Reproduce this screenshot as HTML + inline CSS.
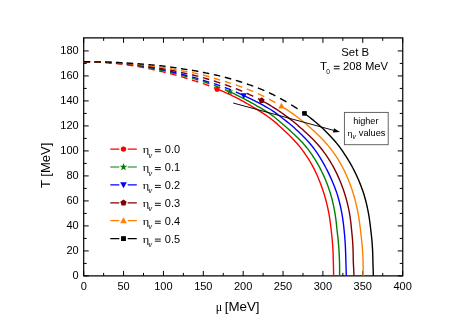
<!DOCTYPE html><html><head><meta charset="utf-8"><style>html,body{margin:0;padding:0;background:#fff}</style></head><body><svg width="468" height="331" viewBox="0 0 468 331" style="will-change:transform;display:block;font-family:'Liberation Sans',sans-serif">
<rect width="468" height="331" fill="#fff"/>
<path d="M83.10000000000001,37.85H403.35M83.10000000000001,275.9H403.35M83.7,37.85V275.9M402.75,37.85V275.9" fill="none" stroke="#000" stroke-width="1.2"/>
<path d="M83.70,275.9v-5.0M83.70,37.85v5.0M103.63,275.9v-3.0M103.63,37.85v3.0M123.57,275.9v-5.0M123.57,37.85v5.0M143.50,275.9v-3.0M143.50,37.85v3.0M163.44,275.9v-5.0M163.44,37.85v5.0M183.37,275.9v-3.0M183.37,37.85v3.0M203.31,275.9v-5.0M203.31,37.85v5.0M223.24,275.9v-3.0M223.24,37.85v3.0M243.18,275.9v-5.0M243.18,37.85v5.0M263.11,275.9v-3.0M263.11,37.85v3.0M283.04,275.9v-5.0M283.04,37.85v5.0M302.98,275.9v-3.0M302.98,37.85v3.0M322.91,275.9v-5.0M322.91,37.85v5.0M342.85,275.9v-3.0M342.85,37.85v3.0M362.78,275.9v-5.0M362.78,37.85v5.0M382.72,275.9v-3.0M382.72,37.85v3.0M402.65,275.9v-5.0M402.65,37.85v5.0M83.7,275.91h5.0M402.75,275.91h-5.0M83.7,263.41h3.0M402.75,263.41h-3.0M83.7,250.91h5.0M402.75,250.91h-5.0M83.7,238.41h3.0M402.75,238.41h-3.0M83.7,225.91h5.0M402.75,225.91h-5.0M83.7,213.41h3.0M402.75,213.41h-3.0M83.7,200.91h5.0M402.75,200.91h-5.0M83.7,188.41h3.0M402.75,188.41h-3.0M83.7,175.91h5.0M402.75,175.91h-5.0M83.7,163.41h3.0M402.75,163.41h-3.0M83.7,150.91h5.0M402.75,150.91h-5.0M83.7,138.41h3.0M402.75,138.41h-3.0M83.7,125.91h5.0M402.75,125.91h-5.0M83.7,113.41h3.0M402.75,113.41h-3.0M83.7,100.91h5.0M402.75,100.91h-5.0M83.7,88.41h3.0M402.75,88.41h-3.0M83.7,75.91h5.0M402.75,75.91h-5.0M83.7,63.41h3.0M402.75,63.41h-3.0M83.7,50.91h5.0M402.75,50.91h-5.0" stroke="#000" stroke-width="1.0" fill="none"/>
<path d="M83.70,61.79 L84.61,61.80 L85.53,61.81 L86.44,61.82 L87.36,61.84 L88.27,61.86 L89.19,61.88 L90.10,61.90M94.43,62.04 L95.34,62.07 L96.26,62.11 L97.17,62.15 L98.09,62.20 L99.00,62.24 L99.92,62.29 L100.83,62.34M105.18,62.62 L106.10,62.68 L107.01,62.75 L107.92,62.82 L108.84,62.89 L109.75,62.97 L110.67,63.05 L111.58,63.13M115.95,63.55 L116.87,63.65 L117.78,63.75 L118.70,63.85 L119.61,63.95 L120.53,64.06 L121.44,64.17 L122.35,64.28M126.75,64.84 L127.66,64.97 L128.58,65.10 L129.49,65.23 L130.41,65.36 L131.32,65.49 L132.23,65.63 L133.15,65.77M137.56,66.47 L138.48,66.63 L139.39,66.78 L140.31,66.94 L141.22,67.10 L142.13,67.27 L143.05,67.44 L143.96,67.61M148.40,68.51 L149.31,68.71 L150.23,68.91 L151.14,69.11 L152.06,69.31 L152.97,69.52 L153.88,69.73 L154.80,69.94M159.25,71.00 L160.17,71.22 L161.08,71.44 L162.00,71.66 L162.91,71.88 L163.83,72.10 L164.74,72.33 L165.65,72.56M170.13,73.70 L171.05,73.94 L171.96,74.18 L172.87,74.42 L173.79,74.66 L174.70,74.90 L175.62,75.15 L176.53,75.40M181.03,76.65 L181.94,76.91 L182.86,77.17 L183.77,77.44 L184.69,77.71 L185.60,77.99 L186.52,78.27 L187.43,78.55M191.95,80.00 L192.86,80.30 L193.78,80.60 L194.69,80.90 L195.61,81.20 L196.52,81.50 L197.44,81.80 L198.35,82.09M202.89,83.58 L203.80,83.89 L204.72,84.20 L205.63,84.52 L206.55,84.85 L207.46,85.18 L208.38,85.52 L209.29,85.86M213.85,87.62 L214.33,87.81 L214.81,88.00 L215.29,88.20 L215.77,88.39 L216.24,88.58 L216.72,88.78 L217.20,88.91" fill="none" stroke="#ff0000" stroke-width="1.4"/>
<path d="M217.05,88.91 L218.78,89.63 L220.51,90.36 L222.24,91.10 L223.95,91.85 L225.66,92.61 L227.37,93.38 L229.07,94.17 L230.76,94.97 L232.45,95.79 L234.13,96.61 L235.80,97.46 L237.47,98.32 L239.13,99.19 L240.78,100.07 L242.43,100.97 L244.07,101.89 L245.70,102.81 L247.33,103.74 L248.95,104.69 L250.56,105.64 L252.16,106.59 L253.75,107.53 L255.34,108.47 L256.92,109.41 L258.49,110.37 L260.05,111.34 L261.60,112.34 L263.14,113.35 L264.67,114.37 L266.19,115.40 L267.70,116.45 L269.19,117.52 L270.68,118.62 L272.15,119.75 L273.61,120.92 L275.06,122.14 L276.50,123.40 L277.92,124.68 L279.33,125.99 L280.74,127.30 L282.15,128.60 L283.55,129.90 L284.94,131.18 L286.32,132.47 L287.70,133.78 L289.06,135.10 L290.41,136.44 L291.74,137.79 L293.06,139.15 L294.36,140.52 L295.64,141.91 L296.89,143.32 L298.12,144.74 L299.32,146.17 L300.50,147.61 L301.64,149.07 L302.75,150.55 L303.83,152.03 L304.89,153.54 L305.93,155.05 L306.95,156.58 L307.94,158.12 L308.91,159.68 L309.87,161.25 L310.79,162.84 L311.70,164.44 L312.59,166.05 L313.45,167.68 L314.29,169.32 L315.11,170.98 L315.91,172.65 L316.69,174.33 L317.45,176.02 L318.18,177.72 L318.90,179.44 L319.60,181.16 L320.28,182.90 L320.94,184.65 L321.58,186.41 L322.20,188.17 L322.80,189.95 L323.39,191.73 L323.95,193.53 L324.50,195.33 L325.03,197.14 L325.54,198.96 L326.03,200.78 L326.50,202.62 L326.95,204.45 L327.38,206.30 L327.80,208.15 L328.20,210.00 L328.57,211.86 L328.93,213.73 L329.26,215.60 L329.56,217.47 L329.84,219.35 L330.10,221.23 L330.35,223.12 L330.59,225.00 L330.81,226.89 L331.03,228.78 L331.25,230.67 L331.46,232.57 L331.68,234.46 L331.89,236.36 L332.08,238.25 L332.26,240.15 L332.42,242.04 L332.57,243.94 L332.70,245.83 L332.82,247.72 L332.93,249.61 L333.02,251.50 L333.10,253.38 L333.16,255.26 L333.21,257.14 L333.26,259.01 L333.31,260.89 L333.36,262.75 L333.41,264.61 L333.46,266.47 L333.50,268.32 L333.54,270.16 L333.57,272.00 L333.59,273.84 L333.59,275.66 L333.59,275.66" fill="none" stroke="#ff0000" stroke-width="1.4" stroke-linejoin="round"/>
<circle cx="217.10" cy="89.30" r="2.55" fill="#ff0000"/>
<path d="M83.70,61.79 L84.61,61.79 L85.53,61.79 L86.44,61.79 L87.36,61.80 L88.27,61.81 L89.19,61.82 L90.10,61.83M94.43,61.91 L95.34,61.93 L96.26,61.96 L97.17,61.99 L98.09,62.02 L99.00,62.05 L99.92,62.09 L100.83,62.13M105.18,62.34 L106.10,62.40 L107.01,62.45 L107.92,62.51 L108.84,62.57 L109.75,62.63 L110.67,62.70 L111.58,62.76M115.95,63.13 L116.87,63.21 L117.78,63.29 L118.70,63.38 L119.61,63.47 L120.53,63.57 L121.44,63.66 L122.35,63.76M126.75,64.26 L127.66,64.37 L128.58,64.49 L129.49,64.60 L130.41,64.72 L131.32,64.84 L132.23,64.96 L133.15,65.09M137.56,65.72 L138.48,65.86 L139.39,66.00 L140.31,66.14 L141.22,66.29 L142.13,66.44 L143.05,66.59 L143.96,66.75M148.40,67.56 L149.31,67.73 L150.23,67.91 L151.14,68.09 L152.06,68.28 L152.97,68.46 L153.88,68.65 L154.80,68.84M159.25,69.80 L160.17,70.00 L161.08,70.21 L162.00,70.41 L162.91,70.62 L163.83,70.82 L164.74,71.03 L165.65,71.24M170.13,72.31 L171.05,72.53 L171.96,72.76 L172.87,72.98 L173.79,73.21 L174.70,73.44 L175.62,73.68 L176.53,73.92M181.03,75.13 L181.94,75.37 L182.86,75.62 L183.77,75.87 L184.69,76.12 L185.60,76.37 L186.52,76.62 L187.43,76.87M191.95,78.13 L192.86,78.39 L193.78,78.66 L194.69,78.93 L195.61,79.20 L196.52,79.48 L197.44,79.77 L198.35,80.05M202.89,81.53 L203.80,81.84 L204.72,82.15 L205.63,82.46 L206.55,82.78 L207.46,83.09 L208.38,83.41 L209.29,83.72M213.85,85.32 L214.77,85.65 L215.68,85.99 L216.59,86.34 L217.51,86.69 L218.42,87.05 L219.34,87.41 L220.25,87.78M224.83,89.68 L225.49,89.96 L226.14,90.24 L226.79,90.52 L227.44,90.81 L228.10,91.10 L228.75,91.39 L229.40,91.59" fill="none" stroke="#008000" stroke-width="1.4"/>
<path d="M229.20,91.59 L230.95,92.38 L232.69,93.18 L234.42,93.99 L236.15,94.82 L237.87,95.65 L239.59,96.51 L241.30,97.37 L243.01,98.25 L244.71,99.14 L246.40,100.04 L248.09,100.95 L249.77,101.87 L251.45,102.80 L253.11,103.72 L254.77,104.65 L256.42,105.58 L258.06,106.52 L259.69,107.47 L261.32,108.44 L262.93,109.43 L264.53,110.42 L266.13,111.41 L267.71,112.43 L269.28,113.46 L270.84,114.52 L272.39,115.63 L273.92,116.77 L275.44,117.97 L276.95,119.20 L278.45,120.46 L279.93,121.74 L281.40,123.01 L282.86,124.28 L284.30,125.53 L285.75,126.78 L287.19,128.04 L288.64,129.32 L290.08,130.61 L291.52,131.91 L292.95,133.23 L294.38,134.56 L295.79,135.91 L297.19,137.27 L298.58,138.65 L299.94,140.03 L301.28,141.44 L302.60,142.85 L303.89,144.28 L305.14,145.73 L306.36,147.19 L307.54,148.66 L308.67,150.15 L309.78,151.65 L310.86,153.16 L311.92,154.69 L312.97,156.24 L313.99,157.79 L314.98,159.37 L315.96,160.95 L316.91,162.55 L317.85,164.17 L318.76,165.80 L319.65,167.44 L320.51,169.10 L321.36,170.77 L322.18,172.45 L322.99,174.15 L323.77,175.86 L324.53,177.58 L325.27,179.31 L325.98,181.06 L326.68,182.81 L327.36,184.58 L328.02,186.35 L328.65,188.14 L329.27,189.93 L329.87,191.74 L330.43,193.55 L330.97,195.37 L331.49,197.20 L331.97,199.04 L332.43,200.89 L332.87,202.74 L333.29,204.60 L333.68,206.47 L334.06,208.34 L334.43,210.22 L334.78,212.10 L335.10,213.99 L335.39,215.88 L335.66,217.78 L335.91,219.68 L336.14,221.59 L336.36,223.49 L336.56,225.41 L336.76,227.32 L336.96,229.24 L337.17,231.16 L337.38,233.08 L337.60,235.00 L337.82,236.92 L338.02,238.84 L338.21,240.77 L338.39,242.69 L338.56,244.61 L338.72,246.54 L338.86,248.46 L338.99,250.38 L339.11,252.30 L339.21,254.21 L339.30,256.12 L339.37,258.03 L339.44,259.94 L339.49,261.84 L339.54,263.74 L339.58,265.64 L339.60,267.53 L339.62,269.42 L339.63,271.30 L339.62,273.17 L339.60,275.04 L339.59,275.66" fill="none" stroke="#008000" stroke-width="1.4" stroke-linejoin="round"/>
<polygon points="229.70,88.00 230.61,90.44 233.22,90.56 231.18,92.18 231.87,94.69 229.70,93.25 227.53,94.69 228.22,92.18 226.18,90.56 228.79,90.44" fill="#008000"/>
<path d="M83.70,61.80 L84.61,61.79 L85.53,61.78 L86.44,61.78 L87.36,61.78 L88.27,61.78 L89.19,61.78 L90.10,61.79M94.43,61.84 L95.34,61.86 L96.26,61.88 L97.17,61.90 L98.09,61.92 L99.00,61.95 L99.92,61.98 L100.83,62.01M105.18,62.19 L106.10,62.24 L107.01,62.29 L107.92,62.34 L108.84,62.39 L109.75,62.45 L110.67,62.51 L111.58,62.57M115.95,62.89 L116.87,62.97 L117.78,63.05 L118.70,63.13 L119.61,63.21 L120.53,63.29 L121.44,63.38 L122.35,63.47M126.75,63.94 L127.66,64.04 L128.58,64.14 L129.49,64.25 L130.41,64.36 L131.32,64.47 L132.23,64.59 L133.15,64.70M137.56,65.29 L138.48,65.42 L139.39,65.55 L140.31,65.68 L141.22,65.81 L142.13,65.95 L143.05,66.09 L143.96,66.24M148.40,66.98 L149.31,67.14 L150.23,67.30 L151.14,67.47 L152.06,67.63 L152.97,67.80 L153.88,67.98 L154.80,68.15M159.25,69.03 L160.17,69.22 L161.08,69.41 L162.00,69.60 L162.91,69.79 L163.83,69.98 L164.74,70.17 L165.65,70.37M170.13,71.37 L171.05,71.58 L171.96,71.79 L172.87,72.01 L173.79,72.22 L174.70,72.44 L175.62,72.67 L176.53,72.90M181.03,74.05 L181.94,74.29 L182.86,74.53 L183.77,74.76 L184.69,75.00 L185.60,75.23 L186.52,75.47 L187.43,75.70M191.95,76.89 L192.86,77.14 L193.78,77.39 L194.69,77.65 L195.61,77.91 L196.52,78.18 L197.44,78.45 L198.35,78.73M202.89,80.17 L203.80,80.47 L204.72,80.77 L205.63,81.07 L206.55,81.37 L207.46,81.67 L208.38,81.96 L209.29,82.24M213.85,83.62 L214.77,83.91 L215.68,84.20 L216.59,84.50 L217.51,84.82 L218.42,85.14 L219.34,85.47 L220.25,85.80M224.83,87.52 L225.75,87.87 L226.66,88.23 L227.58,88.59 L228.49,88.96 L229.41,89.32 L230.32,89.70 L231.23,90.07M235.84,92.01 L236.75,92.40 L237.67,92.80 L238.58,93.21 L239.50,93.61 L240.41,94.02 L241.32,94.44 L242.24,94.85" fill="none" stroke="#0000ff" stroke-width="1.4"/>
<path d="M243.86,95.60 L245.63,96.43 L247.39,97.27 L249.15,98.11 L250.90,98.97 L252.64,99.82 L254.38,100.68 L256.12,101.54 L257.84,102.42 L259.56,103.31 L261.27,104.22 L262.97,105.15 L264.67,106.09 L266.35,107.04 L268.02,108.00 L269.69,108.99 L271.34,110.01 L272.98,111.07 L274.61,112.18 L276.23,113.35 L277.83,114.56 L279.42,115.80 L281.00,117.04 L282.57,118.26 L284.12,119.46 L285.65,120.64 L287.17,121.85 L288.68,123.07 L290.17,124.30 L291.64,125.55 L293.11,126.82 L294.56,128.10 L296.01,129.40 L297.45,130.71 L298.88,132.05 L300.30,133.39 L301.70,134.76 L303.09,136.14 L304.45,137.54 L305.80,138.96 L307.13,140.39 L308.43,141.83 L309.71,143.30 L310.95,144.77 L312.17,146.27 L313.36,147.78 L314.50,149.30 L315.61,150.84 L316.70,152.40 L317.76,153.97 L318.80,155.55 L319.81,157.15 L320.80,158.76 L321.77,160.39 L322.72,162.03 L323.65,163.68 L324.57,165.35 L325.47,167.03 L326.36,168.73 L327.23,170.44 L328.09,172.15 L328.93,173.89 L329.76,175.63 L330.57,177.39 L331.36,179.15 L332.13,180.93 L332.89,182.72 L333.62,184.51 L334.34,186.32 L335.04,188.14 L335.72,189.96 L336.38,191.80 L337.01,193.64 L337.60,195.49 L338.15,197.35 L338.68,199.22 L339.17,201.09 L339.64,202.97 L340.09,204.86 L340.51,206.75 L340.92,208.65 L341.31,210.56 L341.68,212.47 L342.03,214.38 L342.36,216.30 L342.66,218.23 L342.94,220.16 L343.20,222.09 L343.44,224.02 L343.67,225.96 L343.88,227.90 L344.08,229.84 L344.27,231.79 L344.46,233.73 L344.64,235.68 L344.80,237.63 L344.95,239.58 L345.08,241.53 L345.20,243.48 L345.31,245.42 L345.41,247.37 L345.50,249.32 L345.58,251.27 L345.65,253.21 L345.71,255.15 L345.77,257.09 L345.82,259.03 L345.87,260.96 L345.93,262.89 L345.98,264.82 L346.04,266.75 L346.09,268.66 L346.15,270.58 L346.21,272.49 L346.26,274.39 L346.30,275.66" fill="none" stroke="#0000ff" stroke-width="1.4" stroke-linejoin="round"/>
<polygon points="240.55,93.28 246.85,93.28 243.70,98.95" fill="#0000ff"/>
<path d="M83.70,61.79 L84.61,61.79 L85.53,61.80 L86.44,61.80 L87.36,61.80 L88.27,61.81 L89.19,61.82 L90.10,61.83M94.43,61.89 L95.34,61.91 L96.26,61.93 L97.17,61.96 L98.09,61.98 L99.00,62.01 L99.92,62.04 L100.83,62.07M105.18,62.24 L106.10,62.28 L107.01,62.32 L107.92,62.37 L108.84,62.41 L109.75,62.46 L110.67,62.51 L111.58,62.57M115.95,62.86 L116.87,62.92 L117.78,62.99 L118.70,63.06 L119.61,63.13 L120.53,63.21 L121.44,63.28 L122.35,63.36M126.75,63.77 L127.66,63.85 L128.58,63.95 L129.49,64.04 L130.41,64.13 L131.32,64.23 L132.23,64.33 L133.15,64.43M137.56,64.93 L138.48,65.04 L139.39,65.15 L140.31,65.26 L141.22,65.37 L142.13,65.49 L143.05,65.61 L143.96,65.73M148.40,66.34 L149.31,66.48 L150.23,66.61 L151.14,66.75 L152.06,66.89 L152.97,67.03 L153.88,67.17 L154.80,67.32M159.25,68.06 L160.17,68.21 L161.08,68.37 L162.00,68.53 L162.91,68.70 L163.83,68.86 L164.74,69.03 L165.65,69.20M170.13,70.06 L171.05,70.24 L171.96,70.43 L172.87,70.62 L173.79,70.80 L174.70,71.00 L175.62,71.19 L176.53,71.39M181.03,72.40 L181.94,72.61 L182.86,72.81 L183.77,73.02 L184.69,73.22 L185.60,73.42 L186.52,73.62 L187.43,73.82M191.95,74.82 L192.86,75.03 L193.78,75.25 L194.69,75.47 L195.61,75.70 L196.52,75.94 L197.44,76.17 L198.35,76.42M202.89,77.67 L203.80,77.93 L204.72,78.20 L205.63,78.46 L206.55,78.72 L207.46,78.99 L208.38,79.26 L209.29,79.54M213.85,80.95 L214.77,81.24 L215.68,81.53 L216.59,81.83 L217.51,82.13 L218.42,82.44 L219.34,82.74 L220.25,83.05M224.83,84.60 L225.75,84.92 L226.66,85.24 L227.58,85.56 L228.49,85.89 L229.41,86.22 L230.32,86.55 L231.23,86.89M235.84,88.65 L236.75,89.02 L237.67,89.39 L238.58,89.76 L239.50,90.14 L240.41,90.52 L241.32,90.91 L242.24,91.30M246.86,93.33 L247.78,93.75 L248.69,94.17 L249.61,94.59 L250.52,95.02 L251.43,95.45 L252.35,95.88 L253.26,96.32M257.91,98.62 L258.44,98.89 L258.96,99.16 L259.49,99.44 L260.02,99.71 L260.55,99.99 L261.07,100.27 L261.60,100.35" fill="none" stroke="#800000" stroke-width="1.4"/>
<path d="M261.23,100.35 L262.97,101.29 L264.71,102.25 L266.44,103.22 L268.15,104.21 L269.86,105.22 L271.56,106.24 L273.25,107.29 L274.93,108.36 L276.60,109.44 L278.26,110.54 L279.91,111.65 L281.54,112.77 L283.16,113.91 L284.77,115.06 L286.37,116.23 L287.96,117.42 L289.53,118.61 L291.09,119.83 L292.63,121.05 L294.16,122.30 L295.68,123.55 L297.18,124.83 L298.67,126.11 L300.16,127.41 L301.66,128.73 L303.16,130.06 L304.65,131.41 L306.14,132.77 L307.62,134.14 L309.09,135.53 L310.55,136.94 L311.99,138.36 L313.42,139.79 L314.82,141.24 L316.20,142.71 L317.55,144.19 L318.86,145.68 L320.14,147.19 L321.37,148.71 L322.57,150.25 L323.73,151.80 L324.86,153.37 L325.98,154.96 L327.07,156.55 L328.13,158.17 L329.17,159.79 L330.19,161.44 L331.19,163.09 L332.16,164.76 L333.10,166.45 L334.02,168.15 L334.92,169.87 L335.80,171.60 L336.65,173.34 L337.48,175.10 L338.28,176.86 L339.07,178.65 L339.83,180.44 L340.57,182.24 L341.29,184.06 L341.98,185.88 L342.66,187.72 L343.31,189.57 L343.95,191.43 L344.56,193.29 L345.14,195.17 L345.70,197.05 L346.24,198.95 L346.75,200.85 L347.24,202.76 L347.70,204.68 L348.15,206.60 L348.57,208.53 L348.96,210.47 L349.34,212.41 L349.69,214.36 L350.00,216.31 L350.28,218.27 L350.54,220.23 L350.78,222.20 L351.00,224.17 L351.20,226.15 L351.40,228.13 L351.60,230.11 L351.79,232.09 L351.99,234.08 L352.19,236.07 L352.36,238.06 L352.52,240.05 L352.66,242.04 L352.79,244.03 L352.89,246.02 L352.98,248.01 L353.06,250.00 L353.12,251.99 L353.16,253.98 L353.19,255.97 L353.21,257.95 L353.25,259.93 L353.32,261.91 L353.40,263.89 L353.50,265.86 L353.61,267.83 L353.71,269.80 L353.82,271.76 L353.91,273.71 L353.99,275.66 L353.99,275.66" fill="none" stroke="#800000" stroke-width="1.4" stroke-linejoin="round"/>
<polygon points="261.60,97.25 264.60,99.43 263.45,102.95 259.75,102.95 258.60,99.43" fill="#800000"/>
<path d="M83.70,61.79 L84.61,61.79 L85.53,61.79 L86.44,61.79 L87.36,61.79 L88.27,61.79 L89.19,61.80 L90.10,61.80M94.43,61.85 L95.34,61.86 L96.26,61.88 L97.17,61.89 L98.09,61.91 L99.00,61.93 L99.92,61.95 L100.83,61.98M105.18,62.11 L106.10,62.14 L107.01,62.18 L107.92,62.21 L108.84,62.25 L109.75,62.29 L110.67,62.34 L111.58,62.38M115.95,62.62 L116.87,62.67 L117.78,62.73 L118.70,62.79 L119.61,62.85 L120.53,62.92 L121.44,62.98 L122.35,63.05M126.75,63.39 L127.66,63.46 L128.58,63.54 L129.49,63.62 L130.41,63.70 L131.32,63.78 L132.23,63.86 L133.15,63.95M137.56,64.37 L138.48,64.46 L139.39,64.55 L140.31,64.65 L141.22,64.74 L142.13,64.84 L143.05,64.93 L143.96,65.03M148.40,65.54 L149.31,65.65 L150.23,65.76 L151.14,65.87 L152.06,65.98 L152.97,66.10 L153.88,66.22 L154.80,66.34M159.25,66.95 L160.17,67.08 L161.08,67.21 L162.00,67.35 L162.91,67.48 L163.83,67.62 L164.74,67.77 L165.65,67.91M170.13,68.66 L171.05,68.81 L171.96,68.97 L172.87,69.13 L173.79,69.30 L174.70,69.46 L175.62,69.63 L176.53,69.80M181.03,70.68 L181.94,70.86 L182.86,71.03 L183.77,71.21 L184.69,71.38 L185.60,71.55 L186.52,71.72 L187.43,71.87M191.95,72.60 L192.86,72.76 L193.78,72.93 L194.69,73.11 L195.61,73.30 L196.52,73.50 L197.44,73.71 L198.35,73.92M202.89,75.04 L203.80,75.28 L204.72,75.52 L205.63,75.77 L206.55,76.01 L207.46,76.26 L208.38,76.52 L209.29,76.79M213.85,78.18 L214.77,78.46 L215.68,78.74 L216.59,79.01 L217.51,79.28 L218.42,79.54 L219.34,79.80 L220.25,80.07M224.83,81.43 L225.75,81.70 L226.66,81.98 L227.58,82.26 L228.49,82.55 L229.41,82.83 L230.32,83.12 L231.23,83.42M235.84,84.95 L236.75,85.27 L237.67,85.59 L238.58,85.91 L239.50,86.23 L240.41,86.56 L241.32,86.89 L242.24,87.23M246.86,88.99 L247.78,89.35 L248.69,89.71 L249.61,90.08 L250.52,90.45 L251.43,90.83 L252.35,91.22 L253.26,91.60M257.91,93.64 L258.82,94.06 L259.74,94.48 L260.65,94.91 L261.57,95.34 L262.48,95.78 L263.39,96.22 L264.31,96.67M268.97,99.05 L269.89,99.53 L270.80,100.02 L271.72,100.52 L272.63,101.02 L273.55,101.54 L274.46,102.05 L275.37,102.58M280.06,105.35 L280.27,105.48 L280.47,105.60 L280.68,105.73 L280.88,105.86 L281.09,105.98 L281.29,106.11 L281.50,106.17" fill="none" stroke="#ff8000" stroke-width="1.4"/>
<path d="M281.39,106.17 L283.12,107.25 L284.83,108.34 L286.53,109.45 L288.23,110.58 L289.91,111.72 L291.59,112.88 L293.25,114.06 L294.90,115.26 L296.54,116.47 L298.16,117.69 L299.78,118.94 L301.37,120.20 L302.96,121.47 L304.53,122.76 L306.08,124.07 L307.62,125.40 L309.15,126.74 L310.68,128.09 L312.21,129.46 L313.73,130.85 L315.24,132.26 L316.75,133.68 L318.24,135.11 L319.71,136.56 L321.17,138.03 L322.61,139.51 L324.03,141.01 L325.42,142.52 L326.78,144.05 L328.11,145.60 L329.40,147.15 L330.65,148.73 L331.86,150.32 L333.04,151.92 L334.19,153.54 L335.31,155.18 L336.41,156.83 L337.48,158.49 L338.53,160.17 L339.54,161.86 L340.54,163.57 L341.50,165.30 L342.44,167.03 L343.35,168.78 L344.23,170.55 L345.09,172.33 L345.93,174.12 L346.73,175.93 L347.52,177.74 L348.28,179.57 L349.02,181.42 L349.73,183.27 L350.43,185.13 L351.10,187.01 L351.75,188.89 L352.38,190.79 L352.99,192.69 L353.57,194.61 L354.13,196.53 L354.67,198.46 L355.19,200.40 L355.69,202.35 L356.16,204.31 L356.62,206.27 L357.05,208.24 L357.47,210.22 L357.86,212.20 L358.24,214.19 L358.58,216.19 L358.91,218.19 L359.21,220.19 L359.50,222.20 L359.77,224.22 L360.03,226.24 L360.27,228.26 L360.51,230.28 L360.75,232.31 L360.98,234.34 L361.21,236.38 L361.44,238.41 L361.65,240.45 L361.86,242.49 L362.05,244.53 L362.23,246.57 L362.40,248.61 L362.55,250.65 L362.69,252.69 L362.80,254.72 L362.90,256.76 L362.98,258.80 L363.05,260.83 L363.10,262.86 L363.13,264.89 L363.16,266.92 L363.16,268.95 L363.16,270.97 L363.14,272.98 L363.11,275.00 L363.10,275.66" fill="none" stroke="#ff8000" stroke-width="1.4" stroke-linejoin="round"/>
<polygon points="278.35,108.52 284.65,108.52 281.50,102.85" fill="#ff8000"/>
<path d="M83.70,61.79 L84.61,61.79 L85.53,61.80 L86.44,61.80 L87.36,61.80 L88.27,61.80 L89.19,61.81 L90.10,61.81M94.43,61.85 L95.34,61.86 L96.26,61.87 L97.17,61.88 L98.09,61.90 L99.00,61.91 L99.92,61.93 L100.83,61.94M105.18,62.04 L106.10,62.07 L107.01,62.09 L107.92,62.12 L108.84,62.15 L109.75,62.18 L110.67,62.21 L111.58,62.24M115.95,62.42 L116.87,62.47 L117.78,62.51 L118.70,62.56 L119.61,62.60 L120.53,62.65 L121.44,62.70 L122.35,62.75M126.75,63.01 L127.66,63.07 L128.58,63.13 L129.49,63.19 L130.41,63.25 L131.32,63.31 L132.23,63.37 L133.15,63.43M137.56,63.75 L138.48,63.82 L139.39,63.88 L140.31,63.95 L141.22,64.02 L142.13,64.09 L143.05,64.16 L143.96,64.23M148.40,64.60 L149.31,64.67 L150.23,64.75 L151.14,64.84 L152.06,64.92 L152.97,65.00 L153.88,65.09 L154.80,65.17M159.25,65.62 L160.17,65.72 L161.08,65.82 L162.00,65.92 L162.91,66.03 L163.83,66.13 L164.74,66.24 L165.65,66.35M170.13,66.94 L171.05,67.07 L171.96,67.20 L172.87,67.33 L173.79,67.46 L174.70,67.60 L175.62,67.74 L176.53,67.89M181.03,68.64 L181.94,68.79 L182.86,68.94 L183.77,69.09 L184.69,69.23 L185.60,69.37 L186.52,69.50 L187.43,69.63M191.95,70.30 L192.86,70.44 L193.78,70.59 L194.69,70.74 L195.61,70.90 L196.52,71.06 L197.44,71.23 L198.35,71.41M202.89,72.32 L203.80,72.51 L204.72,72.71 L205.63,72.90 L206.55,73.09 L207.46,73.28 L208.38,73.47 L209.29,73.66M213.85,74.62 L214.77,74.82 L215.68,75.02 L216.59,75.23 L217.51,75.44 L218.42,75.66 L219.34,75.88 L220.25,76.10M224.83,77.27 L225.75,77.51 L226.66,77.75 L227.58,78.00 L228.49,78.25 L229.41,78.51 L230.32,78.76 L231.23,79.02M235.84,80.37 L236.75,80.65 L237.67,80.93 L238.58,81.21 L239.50,81.49 L240.41,81.78 L241.32,82.07 L242.24,82.37M246.86,83.90 L247.78,84.22 L248.69,84.54 L249.61,84.86 L250.52,85.19 L251.43,85.52 L252.35,85.85 L253.26,86.19M257.91,87.96 L258.82,88.32 L259.74,88.69 L260.65,89.06 L261.57,89.44 L262.48,89.83 L263.39,90.22 L264.31,90.61M268.97,92.70 L269.89,93.13 L270.80,93.56 L271.72,94.00 L272.63,94.45 L273.55,94.91 L274.46,95.37 L275.37,95.83M280.06,98.30 L280.98,98.80 L281.89,99.30 L282.80,99.81 L283.72,100.33 L284.63,100.85 L285.55,101.38 L286.46,101.91M291.17,104.76 L292.08,105.33 L293.00,105.90 L293.91,106.49 L294.83,107.08 L295.74,107.68 L296.66,108.28 L297.57,108.90M302.30,112.12 L302.61,112.34 L302.93,112.55 L303.24,112.77 L303.56,112.98 L303.87,113.20 L304.19,113.41 L304.50,113.51" fill="none" stroke="#000000" stroke-width="1.4"/>
<path d="M304.33,113.51 L306.12,114.76 L307.89,116.02 L309.61,117.29 L311.27,118.59 L312.90,119.90 L314.52,121.23 L316.12,122.57 L317.70,123.93 L319.26,125.31 L320.80,126.70 L322.33,128.11 L323.84,129.54 L325.34,130.98 L326.82,132.44 L328.27,133.92 L329.71,135.41 L331.13,136.92 L332.53,138.44 L333.90,139.98 L335.25,141.53 L336.57,143.11 L337.86,144.69 L339.10,146.29 L340.31,147.91 L341.48,149.54 L342.61,151.19 L343.72,152.86 L344.81,154.54 L345.89,156.23 L346.96,157.94 L348.03,159.66 L349.09,161.40 L350.13,163.16 L351.15,164.93 L352.14,166.71 L353.10,168.51 L354.04,170.32 L354.96,172.15 L355.85,173.99 L356.72,175.84 L357.57,177.71 L358.39,179.59 L359.19,181.48 L359.97,183.38 L360.72,185.30 L361.45,187.22 L362.16,189.16 L362.85,191.10 L363.50,193.06 L364.12,195.02 L364.70,197.00 L365.26,198.98 L365.78,200.98 L366.28,202.98 L366.75,204.99 L367.20,207.01 L367.63,209.03 L368.04,211.06 L368.43,213.10 L368.80,215.14 L369.13,217.19 L369.44,219.25 L369.73,221.31 L370.00,223.38 L370.26,225.45 L370.51,227.53 L370.75,229.60 L370.98,231.69 L371.22,233.77 L371.46,235.86 L371.67,237.96 L371.87,240.05 L372.05,242.15 L372.21,244.24 L372.35,246.34 L372.48,248.44 L372.59,250.54 L372.67,252.64 L372.75,254.74 L372.80,256.84 L372.85,258.94 L372.91,261.04 L372.97,263.14 L373.04,265.23 L373.11,267.33 L373.17,269.42 L373.22,271.50 L373.27,273.59 L373.29,275.66 L373.29,275.66" fill="none" stroke="#000000" stroke-width="1.4" stroke-linejoin="round"/>
<rect x="302.20" y="111.10" width="4.60" height="4.60" fill="#000000"/>
<line x1="233.2" y1="103.0" x2="333.44" y2="130.31" stroke="#000" stroke-width="0.95"/>
<polygon points="340.0,132.1 332.87,132.39 334.00,128.24" fill="#000"/>
<rect x="344.4" y="112.4" width="43.8" height="32.3" fill="#fff" stroke="#555" stroke-width="0.9"/>
<text x="365.8" y="124.2" font-size="9.1" text-anchor="middle" fill="#000">higher</text>
<text transform="translate(347.4,135.9) scale(1.15,1)" font-size="8.3" font-family="'Liberation Serif',serif">η</text>
<text x="352.6" y="138.8" font-size="6.8" font-style="italic">v</text>
<text x="358.8" y="136.3" font-size="9.2">values</text>
<text x="83.70" y="289.9" font-size="11" text-anchor="middle">0</text>
<text x="123.57" y="289.9" font-size="11" text-anchor="middle">50</text>
<text x="163.44" y="289.9" font-size="11" text-anchor="middle">100</text>
<text x="203.31" y="289.9" font-size="11" text-anchor="middle">150</text>
<text x="243.18" y="289.9" font-size="11" text-anchor="middle">200</text>
<text x="283.04" y="289.9" font-size="11" text-anchor="middle">250</text>
<text x="322.91" y="289.9" font-size="11" text-anchor="middle">300</text>
<text x="362.78" y="289.9" font-size="11" text-anchor="middle">350</text>
<text x="402.65" y="289.9" font-size="11" text-anchor="middle">400</text>
<text x="78.7" y="279.36" font-size="11" text-anchor="end">0</text>
<text x="78.7" y="254.36" font-size="11" text-anchor="end">20</text>
<text x="78.7" y="229.36" font-size="11" text-anchor="end">40</text>
<text x="78.7" y="204.36" font-size="11" text-anchor="end">60</text>
<text x="78.7" y="179.36" font-size="11" text-anchor="end">80</text>
<text x="78.7" y="154.36" font-size="11" text-anchor="end">100</text>
<text x="78.7" y="129.36" font-size="11" text-anchor="end">120</text>
<text x="78.7" y="104.36" font-size="11" text-anchor="end">140</text>
<text x="78.7" y="79.36" font-size="11" text-anchor="end">160</text>
<text x="78.7" y="54.36" font-size="11" text-anchor="end">180</text>
<text x="215.7" y="310.8" font-size="12" font-family="'Liberation Serif',serif">μ</text>
<text x="224.8" y="310.8" font-size="13.3">[MeV]</text>
<text transform="translate(49.7,188) rotate(-90)" font-size="13">T [MeV]</text>
<text x="355.2" y="56.4" font-size="11.4" text-anchor="middle">Set B</text>
<text x="319.9" y="69.9" font-size="11.5">T</text>
<text x="326.3" y="74.1" font-size="6.6">0</text>
<path d="M333.8,66.3h5.8M333.8,68.8h5.8" stroke="#000" stroke-width="1"/>
<text x="343.0" y="69.9" font-size="11.25">208 MeV</text>
<path d="M110.3,149.10H119.3M127.7,149.10H136.8" stroke="#ff0000" stroke-width="1.2"/>
<circle cx="123.50" cy="149.10" r="2.70" fill="#ff0000"/>
<text transform="translate(142.7,153.20) scale(1.18,1)" font-size="10.5" font-family="'Liberation Serif',serif">η</text>
<text x="148.6" y="157.60" font-size="7" font-style="italic">v</text>
<path d="M154.9,149.60h5.9M154.9,151.70h5.9" stroke="#000" stroke-width="0.9"/>
<text x="164.85" y="153.10" font-size="11">0.0</text>
<path d="M110.3,167.00H119.3M127.7,167.00H136.8" stroke="#008000" stroke-width="1.2"/>
<polygon points="123.50,163.08 124.47,165.67 127.23,165.79 125.07,167.51 125.81,170.17 123.50,168.65 121.19,170.17 121.93,167.51 119.77,165.79 122.53,165.67" fill="#008000"/>
<text transform="translate(142.7,171.10) scale(1.18,1)" font-size="10.5" font-family="'Liberation Serif',serif">η</text>
<text x="148.6" y="175.50" font-size="7" font-style="italic">v</text>
<path d="M154.9,167.50h5.9M154.9,169.60h5.9" stroke="#000" stroke-width="0.9"/>
<text x="164.85" y="171.00" font-size="11">0.1</text>
<path d="M110.3,184.90H119.3M127.7,184.90H136.8" stroke="#0000ff" stroke-width="1.2"/>
<polygon points="120.16,182.23 126.84,182.23 123.50,188.24" fill="#0000ff"/>
<text transform="translate(142.7,189.00) scale(1.18,1)" font-size="10.5" font-family="'Liberation Serif',serif">η</text>
<text x="148.6" y="193.40" font-size="7" font-style="italic">v</text>
<path d="M154.9,185.40h5.9M154.9,187.50h5.9" stroke="#000" stroke-width="0.9"/>
<text x="164.85" y="188.90" font-size="11">0.2</text>
<path d="M110.3,202.80H119.3M127.7,202.80H136.8" stroke="#800000" stroke-width="1.2"/>
<polygon points="123.50,199.46 126.68,201.77 125.46,205.50 121.54,205.50 120.32,201.77" fill="#800000"/>
<text transform="translate(142.7,206.90) scale(1.18,1)" font-size="10.5" font-family="'Liberation Serif',serif">η</text>
<text x="148.6" y="211.30" font-size="7" font-style="italic">v</text>
<path d="M154.9,203.30h5.9M154.9,205.40h5.9" stroke="#000" stroke-width="0.9"/>
<text x="164.85" y="206.80" font-size="11">0.3</text>
<path d="M110.3,220.70H119.3M127.7,220.70H136.8" stroke="#ff8000" stroke-width="1.2"/>
<polygon points="120.16,223.37 126.84,223.37 123.50,217.36" fill="#ff8000"/>
<text transform="translate(142.7,224.80) scale(1.18,1)" font-size="10.5" font-family="'Liberation Serif',serif">η</text>
<text x="148.6" y="229.20" font-size="7" font-style="italic">v</text>
<path d="M154.9,221.20h5.9M154.9,223.30h5.9" stroke="#000" stroke-width="0.9"/>
<text x="164.85" y="224.70" font-size="11">0.4</text>
<path d="M110.3,238.60H119.3M127.7,238.60H136.8" stroke="#000000" stroke-width="1.2"/>
<rect x="121.06" y="236.16" width="4.88" height="4.88" fill="#000000"/>
<text transform="translate(142.7,242.70) scale(1.18,1)" font-size="10.5" font-family="'Liberation Serif',serif">η</text>
<text x="148.6" y="247.10" font-size="7" font-style="italic">v</text>
<path d="M154.9,239.10h5.9M154.9,241.20h5.9" stroke="#000" stroke-width="0.9"/>
<text x="164.85" y="242.60" font-size="11">0.5</text>
</svg></body></html>
